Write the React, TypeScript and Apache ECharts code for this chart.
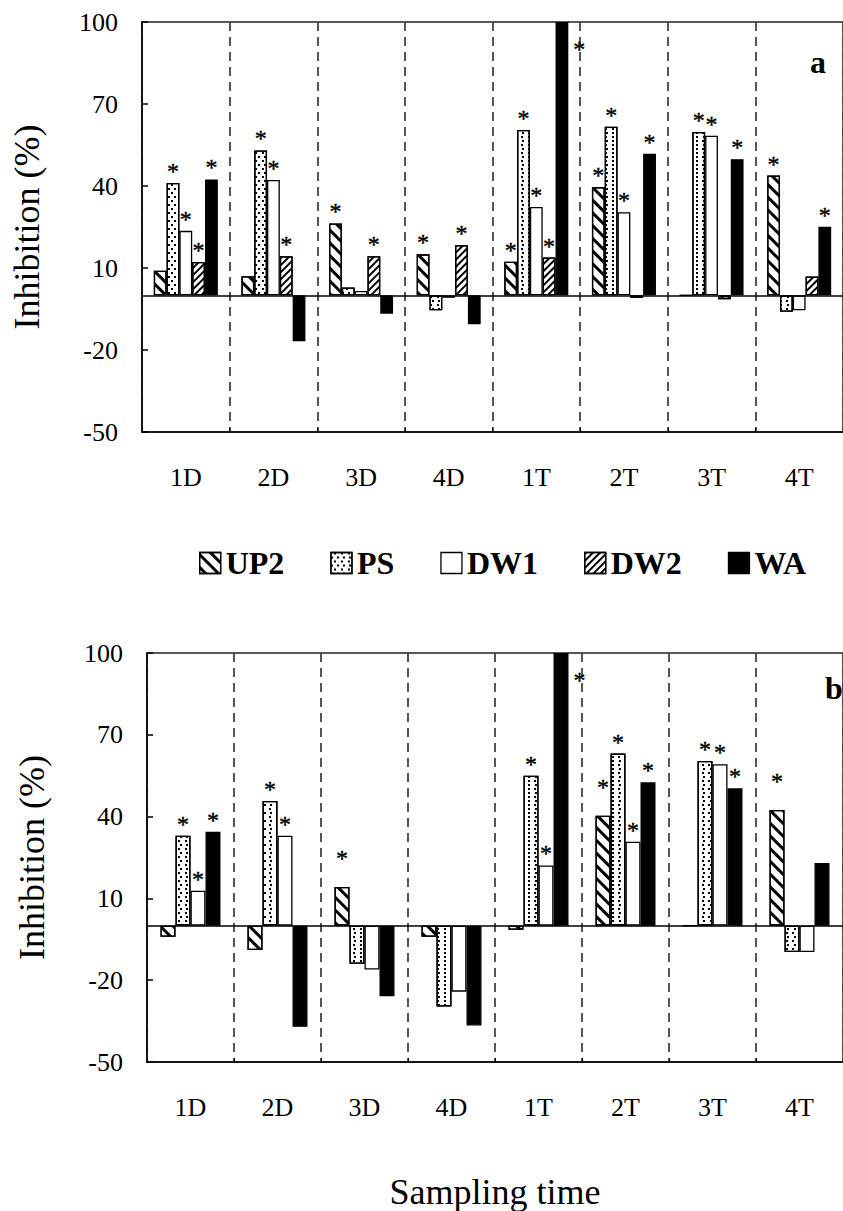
import React, { useEffect, useRef } from 'react';
import * as echarts from 'echarts';

const FONT = '"Liberation Serif", "Times New Roman", serif';

const categories = ['1D', '2D', '3D', '4D', '1T', '2T', '3T', '4T'];
const legendNames = ['UP2', 'PS', 'DW1', 'DW2', 'WA'];

// Panel a values (%)
const aUP2 = [9, 7, 26.3, 15, 12.3, 39.6, 0, 43.8];
const aPS = [41.1, 53, 2.9, -5.5, 60.5, 61.7, 59.8, -6];
const aDW1 = [23.6, 42.2, 1.6, -0.9, 32.3, 30.4, 58.4, -5.5];
const aDW2 = [12.2, 14.3, 14.3, 18.3, 13.8, -0.9, -1.4, 6.9];
const aWA = [42.4, -16.8, -6.7, -10.6, 100, 51.8, 49.8, 25.1];
// Panel a significance markers (1 = asterisk)
const aUP2Star = [0, 0, 1, 1, 1, 1, 0, 1];
const aPSStar = [1, 1, 0, 0, 1, 1, 1, 0];
const aDW1Star = [1, 1, 0, 0, 1, 1, 1, 0];
const aDW2Star = [1, 1, 1, 1, 1, 0, 0, 0];
const aWAStar = [1, 0, 0, 0, 1, 1, 1, 1];

// Panel b values (%)
const bUP2 = [-4.1, -8.9, 14.2, -4.1, -1.5, 40.3, 0, 42.4];
const bPS = [33, 45.7, -14, -29.6, 55, 63.1, 60.4, -9.7];
const bDW1 = [12.8, 33, -16.1, -24.2, 22.1, 30.8, 59.2, -9.7];
const bWA = [34.4, -37.1, -25.9, -36.6, 100, 52.6, 50.4, 23];
// Panel b significance markers
const bUP2Star = [0, 0, 1, 0, 0, 1, 0, 1];
const bPSStar = [1, 1, 0, 0, 1, 1, 1, 0];
const bDW1Star = [1, 1, 0, 0, 1, 1, 1, 0];
const bWAStar = [1, 0, 0, 0, 1, 1, 1, 0];

const yMin = -50;
const yMax = 100;
const yStep = 30;

function styleFor(name: string): any {
  const base: any = { borderColor: '#000', borderWidth: 1.3, color: '#fff' };
  if (name === 'UP2') {
    base.decal = {
      symbol: 'rect', symbolSize: 1, dashArrayX: [1, 0], dashArrayY: [3, 5.5],
      rotation: Math.PI / 4, color: '#000', backgroundColor: '#fff',
    };
  } else if (name === 'PS') {
    base.decal = {
      symbol: 'rect', symbolSize: 1,
      dashArrayX: [[1.2, 3.6], [0, 2.4, 1.2, 1.2]],
      dashArrayY: [1.2, 1.8],
      rotation: 0, color: '#000', backgroundColor: '#fff',
    };
  } else if (name === 'DW2') {
    base.decal = {
      symbol: 'rect', symbolSize: 1, dashArrayX: [1, 0], dashArrayY: [2, 2.6],
      rotation: -Math.PI / 4, color: '#000', backgroundColor: '#fff',
    };
  } else if (name === 'WA') {
    base.color = '#000';
  } else {
    base.decal = 'none';
  }
  return base;
}

function makeSeries(
  name: string, values: number[], stars: number[], grid: number,
  barWidth: number, dist: number, withZero: boolean,
): any {
  const s: any = {
    type: 'bar',
    name,
    xAxisIndex: grid,
    yAxisIndex: grid,
    barWidth,
    barGap: '0%',
    itemStyle: styleFor(name),
    label: {
      show: false, formatter: '*', position: 'top', distance: dist,
      fontSize: 24, fontFamily: FONT, color: '#000',
      textBorderColor: '#000', textBorderWidth: 0.4,
    },
    emphasis: { disabled: true },
    data: values.map((v, i) => {
      const item: any = { value: v };
      if (stars[i]) {
        item.label = { show: true };
        if (name === 'WA' && v >= yMax) {
          item.label.position = [barWidth + 5, 15];
        }
      }
      return item;
    }),
  };
  if (withZero) {
    s.markLine = {
      silent: true, symbol: ['none', 'none'],
      label: { show: false },
      lineStyle: { color: '#000', width: 1.5, type: 'solid' },
      data: [{ yAxis: 0 }],
    };
  }
  return s;
}

function xAxisFor(grid: number, withName: boolean): any {
  const ax: any = {
    gridIndex: grid,
    type: 'category',
    data: categories,
    boundaryGap: true,
    axisLine: { onZero: false, lineStyle: { color: '#000', width: 1.5 } },
    axisTick: { show: true, inside: true, length: 4, interval: 0, lineStyle: { color: '#000', width: 1 } },
    axisLabel: { interval: 0, fontSize: 26, fontFamily: FONT, color: '#000', margin: 32 },
    splitLine: { show: true, interval: 0, lineStyle: { color: '#444', width: 1.8, type: [9, 6] } },
  };
  if (withName) {
    ax.name = 'Sampling time';
    ax.nameLocation = 'middle';
    ax.nameGap = 112;
    ax.nameTextStyle = { fontSize: 36, fontFamily: FONT, color: '#000' };
  }
  return ax;
}

function yAxisFor(grid: number): any {
  return {
    gridIndex: grid,
    type: 'value',
    min: yMin,
    max: yMax,
    interval: yStep,
    axisLine: { show: true, lineStyle: { color: '#000', width: 1.5 } },
    axisTick: { show: true, inside: true, length: 6, lineStyle: { color: '#000', width: 1.5 } },
    axisLabel: { fontSize: 26, fontFamily: FONT, color: '#000', margin: 24 },
    splitLine: { show: false },
    name: 'Inhibition (%)',
    nameLocation: 'middle',
    nameGap: 97,
    nameTextStyle: { fontSize: 36, fontFamily: FONT, color: '#000' },
  };
}

export default function App() {
  const ref = useRef<HTMLDivElement>(null);
  useEffect(() => {
    if (!ref.current) return;
    const chart = echarts.init(ref.current, null, { renderer: 'svg' });
    const option: any = {
      animation: false,
      backgroundColor: '#fff',
      textStyle: { fontFamily: FONT },
      grid: [
        { left: 142, top: 22, width: 706, height: 410, show: true, borderColor: '#222', borderWidth: 1.5, backgroundColor: 'transparent' },
        { left: 147, top: 653, width: 707, height: 410, show: true, borderColor: '#222', borderWidth: 1.5, backgroundColor: 'transparent' },
      ],
      legend: {
        data: legendNames,
        left: 194,
        top: 542,
        icon: 'rect',
        itemWidth: 21,
        itemHeight: 21,
        itemGap: 46,
        selectedMode: false,
        itemStyle: { borderColor: '#000', borderWidth: 1.3 },
        textStyle: { fontSize: 32, fontWeight: 'bold', fontFamily: FONT, color: '#000' },
      },
      xAxis: [xAxisFor(0, false), xAxisFor(1, true)],
      yAxis: [yAxisFor(0), yAxisFor(1)],
      graphic: [
        { type: 'text', left: 810, top: 46, style: { text: 'a', font: 'bold 32px "Liberation Serif"', fill: '#000' } },
        { type: 'text', left: 825, top: 672, style: { text: 'b', font: 'bold 32px "Liberation Serif"', fill: '#000' } },
      ],
      series: [
        makeSeries('UP2', aUP2, aUP2Star, 0, 12.8, 0, true),
        makeSeries('PS', aPS, aPSStar, 0, 12.8, 0, false),
        makeSeries('DW1', aDW1, aDW1Star, 0, 12.8, 0, false),
        makeSeries('DW2', aDW2, aDW2Star, 0, 12.8, 0, false),
        makeSeries('WA', aWA, aWAStar, 0, 12.8, 0, false),
        makeSeries('UP2', bUP2, bUP2Star, 1, 15, 17, true),
        makeSeries('PS', bPS, bPSStar, 1, 15, 0, false),
        makeSeries('DW1', bDW1, bDW1Star, 1, 15, 0, false),
        makeSeries('WA', bWA, bWAStar, 1, 15, 0, false),
      ],
    };
    chart.setOption(option);
    return () => chart.dispose();
  }, []);
  return (
    <div
      ref={ref}
      style={{ position: 'absolute', left: 0, top: 0, width: 843, height: 1211, background: '#fff' }}
    />
  );
}
